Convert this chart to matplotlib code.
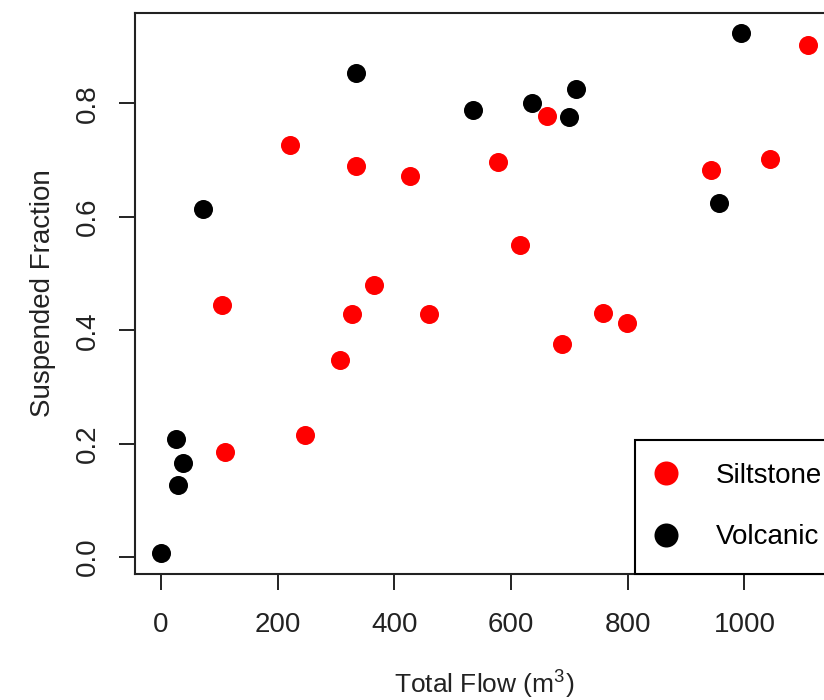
import numpy as np
import matplotlib
matplotlib.use('Agg')
import matplotlib.pyplot as plt

plt.rcParams['font.family'] = ['Liberation Sans', 'DejaVu Sans']
plt.rcParams['mathtext.fontset'] = 'custom'
plt.rcParams['mathtext.rm'] = 'Liberation Sans'

# Data
silt_flow = [221, 334, 427, 104, 366, 328, 1109, 662, 578, 943, 1043, 615, 459, 758, 799, 688, 110, 247, 307]
silt_frac = [0.726, 0.690, 0.671, 0.444, 0.480, 0.428, 0.902, 0.778, 0.696, 0.683, 0.701, 0.551, 0.428, 0.431, 0.412, 0.376, 0.185, 0.215, 0.348]
volc_flow = [0, 26, 29, 38, 73, 334, 535, 636, 699, 711, 956, 994]
volc_frac = [0.007, 0.209, 0.128, 0.166, 0.613, 0.853, 0.788, 0.800, 0.776, 0.825, 0.625, 0.923]

xticks = [0, 200, 400, 600, 800, 1000]
yticks = [0.0, 0.2, 0.4, 0.6, 0.8]

W, H = 824, 700
fig = plt.figure(figsize=(W / 100, H / 100), dpi=100)
# axes box: left 135px, right ~834px (cropped off), top 12.7px, bottom 574px
ax_l, ax_r = 135, 834
ax = fig.add_axes([ax_l / W, (H - 574) / H, (ax_r - ax_l) / W, (574 - 12.7) / H])

ax.plot(silt_flow, silt_frac, 'o', color='red', markersize=13.7, markeredgewidth=0, label='Siltstone')
ax.plot(volc_flow, volc_frac, 'o', color='black', markersize=13.7, markeredgewidth=0, label='Volcanic')

# R style 4% padding
allx = np.array(silt_flow + volc_flow, dtype=float)
ally = np.array(silt_frac + volc_frac)
rx = allx.max() - allx.min()
ry = ally.max() - ally.min()
ax.set_xlim(allx.min() - 0.04 * rx, allx.max() + 0.04 * rx)
ax.set_ylim(ally.min() - 0.04 * ry, ally.max() + 0.04 * ry)

ax.set_xticks(xticks)
ax.set_xticklabels([str(t) for t in xticks])
ax.set_yticks(yticks)
ax.set_yticklabels(['%.1f' % t for t in yticks], rotation=90, va='center')
ax.tick_params(axis='both', direction='out', length=11.5, width=1.4, labelsize=20, colors='#222222')
ax.tick_params(axis='x', pad=16)
ax.tick_params(axis='y', pad=13)
for sp in ax.spines.values():
    sp.set_linewidth(1.5)
    sp.set_color('#222222')

ax.set_xlabel('Total Flow (m$^\\mathregular{3}$)', fontsize=19, color='#222222', labelpad=21)
ax.set_ylabel('Suspended Fraction', fontsize=20, color='#222222', labelpad=14)

# legend box starts at ~635px and sits on the bottom axis
leg = ax.legend(loc='lower left', bbox_to_anchor=((635 - ax_l) / (ax_r - ax_l), 0),
                fontsize=20, markerscale=24 / 19, frameon=True, fancybox=False,
                borderaxespad=0, borderpad=0.85, labelspacing=1.27, handlelength=0.53,
                handletextpad=1.54, framealpha=1)
leg.get_frame().set_edgecolor('black')
leg.get_frame().set_linewidth(1.5)

plt.savefig('out.png', dpi=100)
